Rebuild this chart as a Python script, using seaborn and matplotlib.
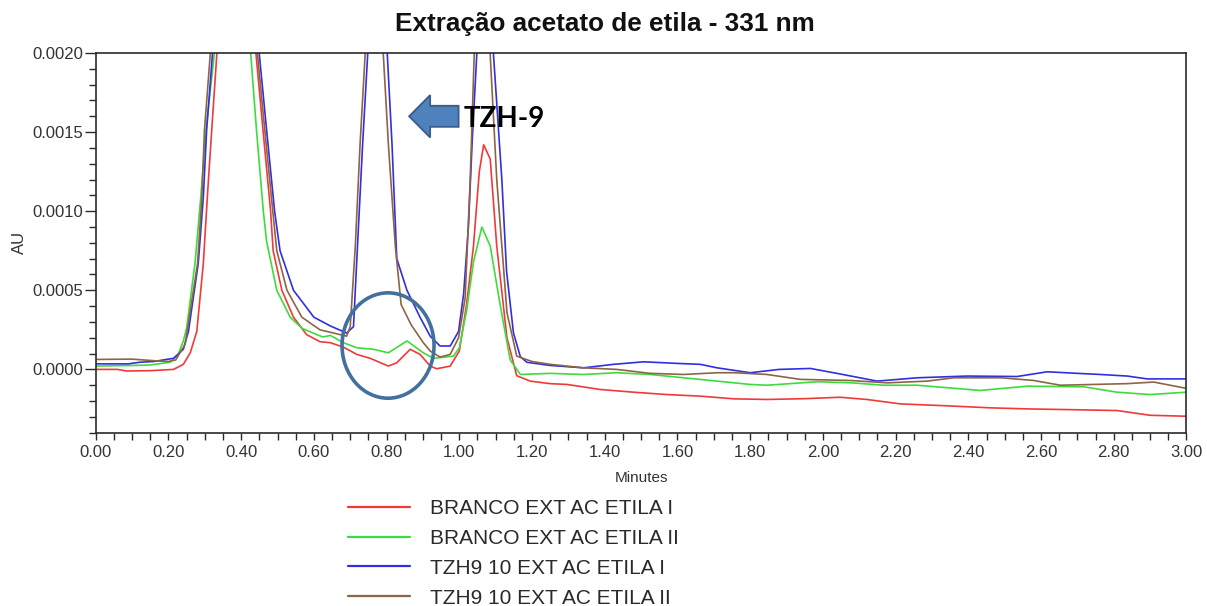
import matplotlib
matplotlib.use("Agg")
import matplotlib.pyplot as plt
import pandas as pd
import seaborn as sns
from matplotlib.patches import Ellipse, FancyArrow
from matplotlib.ticker import MultipleLocator, FormatStrFormatter

sns.set_theme(style="ticks")
plt.rcParams["font.family"] = ["Liberation Sans", "DejaVu Sans"]

# ---- chromatogram traces (time in minutes, absorbance in AU) ----
red_t = [0.00, 0.06, 0.085, 0.15, 0.214, 0.241, 0.26, 0.278, 0.296, 0.307,
         0.319, 0.333, 0.38, 0.441, 0.461, 0.481, 0.488, 0.512, 0.544, 0.58,
         0.617, 0.645, 0.681, 0.718, 0.755, 0.805, 0.828, 0.865, 0.892, 0.92,
         0.938, 0.975, 1.0, 1.02, 1.039, 1.055, 1.067, 1.085, 1.103, 1.131,
         1.158, 1.195, 1.25, 1.296, 1.388, 1.479, 1.571, 1.663, 1.755, 1.846,
         1.95, 2.048, 2.121, 2.213, 2.34, 2.461, 2.57, 2.672, 2.809, 2.90, 3.00]
red_au = [0.0, 0.0, -1.0e-5, -0.8e-5, 0.0, 3.2e-5, 1.05e-4, 2.4e-4, 6.7e-4, 1.09e-3,
          1.51e-3, 1.99e-3, 6.5e-3, 1.99e-3, 1.49e-3, 1.0e-3, 7.5e-4, 5.0e-4, 3.3e-4, 2.2e-4,
          1.75e-4, 1.69e-4, 1.41e-4, 9.5e-5, 7.0e-5, 2.1e-5, 4.2e-5, 1.27e-4, 9.5e-5, 2.1e-5,
          4e-6, 2.1e-5, 1.16e-4, 4.1e-4, 7.8e-4, 1.25e-3, 1.42e-3, 1.33e-3, 7.8e-4, 2.0e-4,
          -4e-5, -7.4e-5, -9.0e-5, -9.5e-5, -1.27e-4, -1.44e-4, -1.59e-4, -1.69e-4, -1.86e-4, -1.9e-4,
          -1.85e-4, -1.76e-4, -1.9e-4, -2.18e-4, -2.3e-4, -2.43e-4, -2.5e-4, -2.54e-4, -2.6e-4, -2.9e-4,
          -2.96e-4]

green_t = [0.00, 0.10, 0.15, 0.204, 0.227, 0.241, 0.25, 0.273, 0.289, 0.303,
           0.326, 0.375, 0.4265, 0.443, 0.461, 0.47, 0.498, 0.535, 0.567, 0.608,
           0.625, 0.645, 0.681, 0.718, 0.764, 0.805, 0.856, 0.901, 0.929, 0.984,
           1.0, 1.02, 1.039, 1.062, 1.085, 1.113, 1.14, 1.168, 1.25, 1.342,
           1.433, 1.525, 1.617, 1.709, 1.80, 1.846, 1.984, 2.08, 2.167, 2.259,
           2.433, 2.562, 2.718, 2.809, 2.90, 3.00]
green_au = [2.1e-5, 2.5e-5, 2.8e-5, 4.5e-5, 9.5e-5, 1.8e-4, 2.6e-4, 6.7e-4, 1.09e-3, 1.51e-3,
            1.99e-3, 6.0e-3, 1.99e-3, 1.49e-3, 1.0e-3, 8.1e-4, 5.0e-4, 3.3e-4, 2.6e-4, 2.2e-4,
            2.05e-4, 2.15e-4, 1.69e-4, 1.37e-4, 1.27e-4, 1.05e-4, 1.8e-4, 1.05e-4, 7e-5, 8.4e-5,
            1.37e-4, 3.7e-4, 6.8e-4, 9.0e-4, 7.8e-4, 4.0e-4, 6e-5, -3.2e-5, -2.5e-5, -3.2e-5,
            -2.1e-5, -3.2e-5, -5.3e-5, -7.4e-5, -9.5e-5, -1.0e-4, -7.8e-5, -8.5e-5, -1.0e-4, -1.0e-4,
            -1.33e-4, -1.06e-4, -1.1e-4, -1.44e-4, -1.59e-4, -1.44e-4]

blue_t = [0.00, 0.09, 0.12, 0.16, 0.20, 0.214, 0.241, 0.255, 0.282, 0.296,
          0.305, 0.321, 0.38, 0.450, 0.471, 0.492, 0.507, 0.544, 0.60, 0.645,
          0.69, 0.709, 0.72, 0.734, 0.748, 0.775, 0.802, 0.815, 0.828, 0.856,
          0.892, 0.92, 0.947, 0.975, 0.998, 1.012, 1.025, 1.035, 1.048, 1.07,
          1.094, 1.117, 1.13, 1.149, 1.168, 1.186, 1.25, 1.342, 1.424, 1.507,
          1.599, 1.663, 1.709, 1.80, 1.88, 1.966, 2.05, 2.149, 2.259, 2.397,
          2.534, 2.617, 2.70, 2.763, 2.837, 2.892, 3.00]
blue_au = [3.5e-5, 3.5e-5, 4.5e-5, 5.0e-5, 6.5e-5, 7.0e-5, 1.27e-4, 2.4e-4, 6.7e-4, 1.09e-3,
           1.51e-3, 1.99e-3, 6.5e-3, 1.99e-3, 1.49e-3, 1.0e-3, 7.5e-4, 5.0e-4, 3.3e-4, 2.75e-4,
           2.3e-4, 2.7e-4, 7.8e-4, 1.42e-3, 1.99e-3, 5.2e-3, 1.99e-3, 1.42e-3, 7.0e-4, 5.0e-4,
           3.3e-4, 2.1e-4, 1.48e-4, 1.48e-4, 2.4e-4, 4.8e-4, 9.0e-4, 1.42e-3, 1.99e-3, 3.6e-3,
           1.99e-3, 1.2e-3, 6.2e-4, 2.3e-4, 8.0e-5, 4.5e-5, 2.5e-5, 1.0e-5, 3.2e-5, 4.8e-5,
           3.8e-5, 3.2e-5, 1.0e-5, -2.1e-5, 0.0, 6e-6, -3.0e-5, -7.4e-5, -5.3e-5, -4.2e-5,
           -4.5e-5, -1.5e-5, -2.5e-5, -3.2e-5, -4.2e-5, -6.0e-5, -6.0e-5]

brown_t = [0.00, 0.10, 0.13, 0.16, 0.20, 0.22, 0.246, 0.28, 0.292, 0.299,
           0.315, 0.38, 0.445, 0.466, 0.487, 0.498, 0.526, 0.567, 0.617, 0.654,
           0.69, 0.70, 0.714, 0.727, 0.741, 0.766, 0.791, 0.805, 0.824, 0.84,
           0.868, 0.901, 0.92, 0.947, 0.975, 0.998, 1.016, 1.03, 1.041, 1.063,
           1.085, 1.103, 1.131, 1.158, 1.2, 1.25, 1.342, 1.433, 1.525, 1.617,
           1.709, 1.755, 1.846, 1.938, 2.076, 2.177, 2.287, 2.36, 2.49, 2.58,
           2.653, 2.745, 2.837, 2.91, 3.00]
brown_au = [6.3e-5, 6.5e-5, 6.0e-5, 5.5e-5, 5.0e-5, 6.0e-5, 1.6e-4, 6.7e-4, 1.09e-3, 1.51e-3,
            1.99e-3, 6.5e-3, 1.99e-3, 1.49e-3, 1.0e-3, 7.5e-4, 5.0e-4, 3.3e-4, 2.5e-4, 2.3e-4,
            2.1e-4, 2.7e-4, 7.8e-4, 1.42e-3, 1.99e-3, 5.0e-3, 1.99e-3, 1.42e-3, 7.8e-4, 4.1e-4,
            2.8e-4, 1.69e-4, 1.16e-4, 7.8e-5, 9.5e-5, 2.0e-4, 4.5e-4, 1.2e-3, 1.99e-3, 3.5e-3,
            1.99e-3, 1.2e-3, 3.6e-4, 8.4e-5, 5.0e-5, 3.2e-5, 1.0e-5, 0.0, -2.5e-5, -3.2e-5,
            -2.1e-5, -2.1e-5, -3.2e-5, -6.3e-5, -7.0e-5, -8.5e-5, -7.4e-5, -5.3e-5, -5.3e-5, -7.0e-5,
            -1.0e-4, -9.5e-5, -9.0e-5, -8.0e-5, -1.2e-4]

series_names = ["BRANCO EXT AC ETILA I", "BRANCO EXT AC ETILA II",
                "TZH9 10 EXT AC ETILA I", "TZH9 10 EXT AC ETILA II"]
series_colors = ["#f03a3a", "#3ddc3d", "#3030e0", "#8f6446"]

traces = [(red_t, red_au), (green_t, green_au), (blue_t, blue_au), (brown_t, brown_au)]
df = pd.concat(
    [pd.DataFrame({"Minutes": t, "AU": v, "Amostra": name})
     for (t, v), name in zip(traces, series_names)],
    ignore_index=True,
)

fig = plt.figure(figsize=(12.07, 6.06), dpi=100)
ax = fig.add_axes([0.0793, 0.286, 0.9037, 0.6265])

sns.lineplot(data=df, x="Minutes", y="AU", hue="Amostra", hue_order=series_names,
             palette=dict(zip(series_names, series_colors)), estimator=None,
             sort=False, legend=False, linewidth=1.2, ax=ax)

ax.set_xlim(0.0, 3.0)
ax.set_ylim(-0.0004, 0.0020)
ax.xaxis.set_major_locator(MultipleLocator(0.2))
ax.xaxis.set_minor_locator(MultipleLocator(0.05))
ax.yaxis.set_major_locator(MultipleLocator(0.0005))
ax.yaxis.set_minor_locator(MultipleLocator(0.0001))
ax.xaxis.set_major_formatter(FormatStrFormatter("%.2f"))
ax.yaxis.set_major_formatter(FormatStrFormatter("%.4f"))

for side in ["left", "right", "top", "bottom"]:
    ax.spines[side].set_visible(True)
    ax.spines[side].set_color("#2a2a2a")
    ax.spines[side].set_linewidth(1.2)

ax.tick_params(axis="x", which="both", direction="out", length=5, width=1.0,
               color="#2a2a2a", labelsize=12, labelcolor="#333333", pad=4)
ax.tick_params(axis="y", which="major", direction="out", length=8, width=1.0,
               color="#2a2a2a", labelsize=12, labelcolor="#333333", pad=1)
ax.tick_params(axis="y", which="minor", direction="out", length=5, width=1.0,
               color="#2a2a2a")

ax.set_xlabel("Minutes", fontsize=11, color="#333333")
ax.set_ylabel("AU", fontsize=12, color="#333333")
ax.xaxis.label.set_va("center")
ax.yaxis.label.set_va("center")
ax.xaxis.set_label_coords(0.5, -0.119)
ax.yaxis.set_label_coords(-0.0703, 0.5)

# circled region around the small blank peaks
ax.add_patch(Ellipse((0.804, 0.000151), 0.253, 0.000666, fill=False,
                     edgecolor="#41719c", linewidth=2.6, zorder=5))

# block arrow pointing at the TZH-9 peak
ax.add_patch(FancyArrow(0.998, 0.0016, -0.136, 0.0, width=0.000133,
                        head_width=0.000268, head_length=0.0578,
                        length_includes_head=True, facecolor="#4f81bd",
                        edgecolor="#385d8a", linewidth=1.3, zorder=6))
ax.text(1.011, 0.001582, "TZH-9", fontsize=20, fontweight="bold",
        family=["Lato", "DejaVu Sans"], ha="left", va="center", color="black", zorder=7)

fig.text(0.5008, 1 - 24 / 606, "Extração acetato de etila - 331 nm",
         ha="center", va="center", fontsize=18.8, fontweight="bold", color="#111111")

leg = fig.legend(handles=ax.lines[:4], labels=series_names, loc="upper left",
                 bbox_to_anchor=(348 / 1207, 1 - 499 / 606), frameon=False,
                 fontsize=15, handlelength=2.98, handletextpad=0.96, labelspacing=0.52,
                 borderaxespad=0, borderpad=0, labelcolor="#2a2a2a")
for handle in leg.get_lines():
    handle.set_linewidth(1.6)

fig.savefig("out.png", dpi=100)
